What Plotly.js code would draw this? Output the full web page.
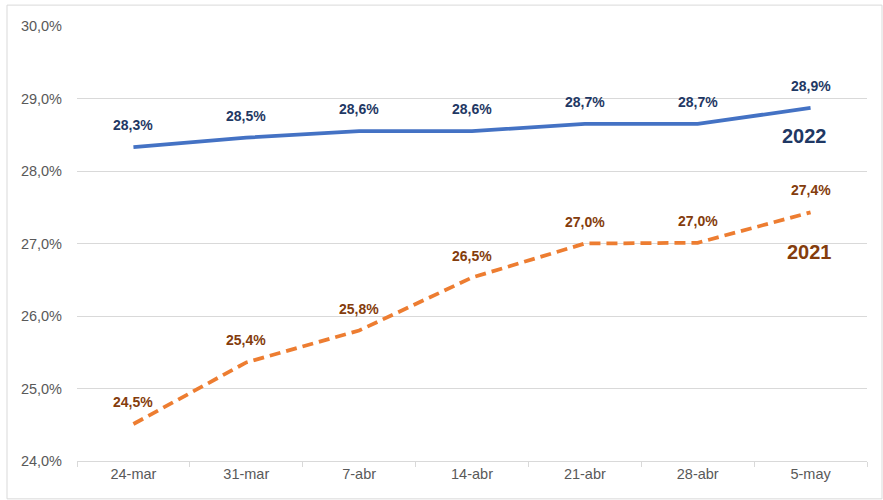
<!DOCTYPE html>
<html>
<head>
<meta charset="utf-8">
<script src="https://cdn.plot.ly/plotly-3.0.1.min.js"></script>
<style>
html,body{margin:0;padding:0;background:#fff;}
#chart{width:883px;height:500px;}
</style>
</head>
<body>
<div id="chart"></div>
<script>
var categories = ["24-mar", "31-mar", "7-abr", "14-abr", "21-abr", "28-abr", "5-may"];
var values2022 = [28.33, 28.46, 28.55, 28.55, 28.65, 28.65, 28.87];
var values2021 = [24.51, 25.36, 25.80, 26.53, 27.00, 27.01, 27.43];
var labels2022 = ["28,3%", "28,5%", "28,6%", "28,6%", "28,7%", "28,7%", "28,9%"];
var labels2021 = ["24,5%", "25,4%", "25,8%", "26,5%", "27,0%", "27,0%", "27,4%"];
var yTicks = [24, 25, 26, 27, 28, 29, 30];
var yTickLabels = ["24,0%", "25,0%", "26,0%", "27,0%", "28,0%", "29,0%", "30,0%"];

var FONT = "Liberation Sans, Arial, sans-serif";
var navy = "#1F3864";
var brown = "#843C0C";

var traces = [
  {
    x: categories, y: values2022, type: "scatter", mode: "lines", name: "2022",
    line: {color: "#4472C4", width: 3.75}, hoverinfo: "skip"
  },
  {
    x: categories, y: values2021, type: "scatter", mode: "lines", name: "2021",
    line: {color: "#ED7D31", width: 3.75, dash: "11px,6px"}, hoverinfo: "skip"
  }
];

var annotations = [];
categories.forEach(function (c, i) {
  annotations.push({x: c, y: values2022[i], xref: "x", yref: "y", text: "<b>" + labels2022[i] + "</b>",
    showarrow: false, yshift: 22, xanchor: "center", yanchor: "middle",
    font: {family: FONT, size: 14, color: navy}});
  annotations.push({x: c, y: values2021[i], xref: "x", yref: "y", text: "<b>" + labels2021[i] + "</b>",
    showarrow: false, yshift: 22, xanchor: "center", yanchor: "middle",
    font: {family: FONT, size: 14, color: brown}});
});
annotations.push({xref: "paper", yref: "paper", x: 0.921, y: 0.747, xanchor: "center", yanchor: "middle",
  text: "<b>2022</b>", showarrow: false, font: {family: FONT, size: 20, color: navy}});
annotations.push({xref: "paper", yref: "paper", x: 0.927, y: 0.480, xanchor: "center", yanchor: "middle",
  text: "<b>2021</b>", showarrow: false, font: {family: FONT, size: 20, color: brown}});

var layout = {
  width: 883, height: 500,
  margin: {l: 77, r: 16, t: 26, b: 39},
  paper_bgcolor: "#ffffff", plot_bgcolor: "#ffffff",
  showlegend: false,
  font: {family: FONT, color: "#595959", size: 14},
  xaxis: {
    type: "category", categoryorder: "array", categoryarray: categories,
    range: [-0.5, categories.length - 0.5],
    tickson: "boundaries", ticks: "outside", ticklen: 5, tickcolor: "#D9D9D9",
    showline: true, linecolor: "#D9D9D9", linewidth: 1,
    showgrid: false, zeroline: false,
    tickfont: {family: FONT, size: 14.5, color: "#595959"},
    fixedrange: true
  },
  yaxis: {
    range: [24, 30], tickmode: "array", tickvals: yTicks, ticktext: yTickLabels,
    showgrid: true, gridcolor: "#D9D9D9", gridwidth: 1,
    zeroline: false, showline: false, ticks: "",
    ticklabelstandoff: 14,
    tickfont: {family: FONT, size: 14.5, color: "#595959"},
    fixedrange: true
  },
  shapes: [{
    type: "rect", xref: "paper", yref: "paper",
    x0: -0.0886, x1: 1.019, y0: -0.087, y1: 1.048,
    line: {color: "#D9D9D9", width: 1}, fillcolor: "rgba(0,0,0,0)", layer: "below"
  }],
  annotations: annotations
};

Plotly.newPlot("chart", traces, layout, {displayModeBar: false, staticPlot: true});
</script>
</body>
</html>
